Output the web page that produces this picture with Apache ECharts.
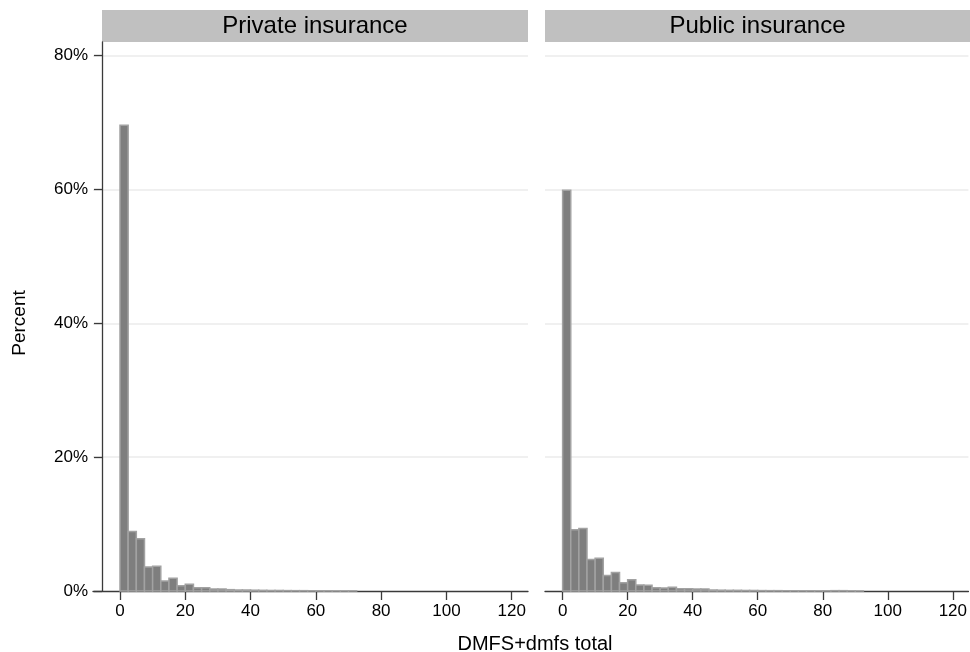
<!DOCTYPE html>
<html>
<head>
<meta charset="utf-8">
<style>
  html, body { margin: 0; padding: 0; background: #fff; }
  #chart { width: 970px; height: 652px; }
</style>
<script src="https://cdn.jsdelivr.net/npm/echarts@6/dist/echarts.min.js"></script>
</head>
<body>
<div id="chart"></div>
<script>
// Histogram of DMFS+dmfs total by insurance type (bin width 2.5, percent of children)
const binWidth = 2.5;
const panelTitles = ['Private insurance', 'Public insurance'];
const privatePct = [69.6, 8.9, 7.8, 3.6, 3.7, 1.5, 1.9, 0.8, 1.0, 0.5, 0.5, 0.3, 0.3,
  0.2, 0.15, 0.15, 0.12, 0.1, 0.08, 0.08, 0.06, 0.05, 0.05, 0.04, 0.03, 0.03, 0.02, 0.02, 0.02];
const publicPct = [59.9, 9.15, 9.35, 4.7, 4.9, 2.3, 2.75, 1.25, 1.7, 0.9, 0.85, 0.5, 0.45,
  0.55, 0.35, 0.35, 0.3, 0.3, 0.15, 0.12, 0.1, 0.1, 0.08, 0.08, 0.06, 0.05, 0.05, 0.04,
  0.04, 0.03, 0.03, 0.02, 0.03, 0.05, 0.05, 0.02, 0.01];
const xTicks = [0, 20, 40, 60, 80, 100, 120];
const yTicks = [0, 20, 40, 60, 80];
const xTitle = 'DMFS+dmfs total';
const yTitle = 'Percent';

const FONT = "'Liberation Sans', Arial, Helvetica, sans-serif";
const AXIS_COLOR = '#3a3a3a';
const GRID_LINE = '#ebebeb';

function toBins(values) {
  return values.map((v, i) => [i * binWidth, (i + 1) * binWidth, v]);
}

function renderBin(params, api) {
  const x0 = api.value(0), x1 = api.value(1), v = api.value(2);
  const top = api.coord([x0, v]);
  const bottom = api.coord([x1, 0]);
  return {
    type: 'rect',
    shape: { x: top[0], y: top[1], width: bottom[0] - top[0], height: bottom[1] - top[1] },
    style: { fill: '#7e7e7e', stroke: '#a2a2a2', lineWidth: 1.5 }
  };
}

function xAxisFor(gridIndex, min, max) {
  return {
    type: 'value', gridIndex, min, max,
    axisLine: { show: true, onZero: false, lineStyle: { color: AXIS_COLOR, width: 1.3 } },
    axisTick: { show: true, customValues: xTicks, length: 9, lineStyle: { color: AXIS_COLOR, width: 1.3 } },
    axisLabel: { show: true, customValues: xTicks, margin: 12, fontSize: 17, color: '#000', fontFamily: FONT },
    splitLine: { show: false }
  };
}

function yAxisFor(gridIndex, withLabels) {
  return {
    type: 'value', gridIndex, min: 0, max: 82.05, interval: 20,
    offset: withLabels ? -9 : 0,
    axisLine: { show: withLabels, onZero: false, lineStyle: { color: AXIS_COLOR, width: 1.3 } },
    axisTick: { show: withLabels, length: 8, lineStyle: { color: AXIS_COLOR, width: 1.3 } },
    axisLabel: {
      show: withLabels, margin: 14, fontSize: 17, color: '#000', fontFamily: FONT,
      showMaxLabel: false,
      formatter: v => (yTicks.indexOf(v) >= 0 ? v + '%' : '')
    },
    splitLine: { show: true, showMaxLine: false, showMinLine: false, lineStyle: { color: GRID_LINE, width: 1.5 } }
  };
}

function header(x, width, text) {
  return {
    type: 'group',
    children: [
      { type: 'rect', shape: { x, y: 10, width, height: 32 }, style: { fill: '#c0c0c0' }, silent: true },
      {
        type: 'text', x: x + width / 2, y: 26,
        style: { text, fill: '#000', font: '24px ' + FONT, textAlign: 'center', textVerticalAlign: 'middle' }
      }
    ]
  };
}

const chart = echarts.init(document.getElementById('chart'), null, { renderer: 'canvas' });
chart.setOption({
  animation: false,
  backgroundColor: '#fff',
  grid: [
    { left: 93, top: 42, width: 435, height: 549 },
    { left: 545, top: 42, width: 425, height: 549 }
  ],
  xAxis: [xAxisFor(0, -8.27, 125), xAxisFor(1, -5.42, 124.8)],
  yAxis: [yAxisFor(0, true), yAxisFor(1, false)],
  series: [
    { type: 'custom', xAxisIndex: 0, yAxisIndex: 0, renderItem: renderBin, encode: { x: [0, 1], y: 2 }, data: toBins(privatePct) },
    { type: 'custom', xAxisIndex: 1, yAxisIndex: 1, renderItem: renderBin, encode: { x: [0, 1], y: 2 }, data: toBins(publicPct) }
  ],
  graphic: [
    header(102, 426, panelTitles[0]),
    header(545, 425, panelTitles[1]),
    {
      type: 'text', x: 535, y: 644,
      style: { text: xTitle, fill: '#000', font: '20px ' + FONT, textAlign: 'center', textVerticalAlign: 'middle' }
    },
    {
      type: 'text', x: 20, y: 323, rotation: Math.PI / 2,
      style: { text: yTitle, fill: '#000', font: '19px ' + FONT, textAlign: 'center', textVerticalAlign: 'middle' }
    }
  ]
});
</script>
</body>
</html>
